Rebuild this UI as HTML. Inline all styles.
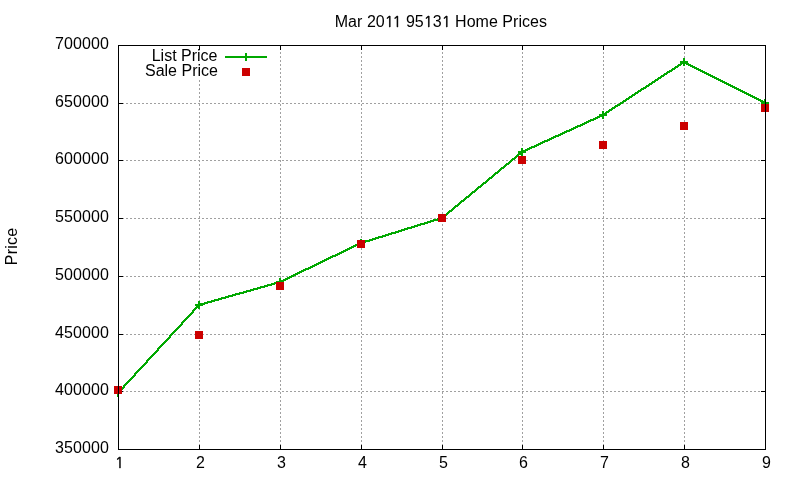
<!DOCTYPE html>
<html><head><meta charset="utf-8"><title>Mar 2011 95131 Home Prices</title>
<style>html,body{margin:0;padding:0;background:#fff;width:800px;height:480px;overflow:hidden}svg{display:block}</style>
</head><body>
<svg width="800" height="480" viewBox="0 0 800 480">
<rect width="800" height="480" fill="#fff"/>
<g shape-rendering="crispEdges">
<path fill="#a0a0a0" d="M280 45h1v1h-1zM361 45h1v1h-1zM442 45h1v1h-1zM522 45h1v1h-1zM603 45h1v1h-1zM684 45h1v1h-1zM280 48h1v2h-1zM361 48h1v2h-1zM442 48h1v2h-1zM522 48h1v2h-1zM603 48h1v2h-1zM684 48h1v2h-1zM280 52h1v2h-1zM361 52h1v2h-1zM442 52h1v2h-1zM522 52h1v2h-1zM603 52h1v2h-1zM684 52h1v2h-1zM280 56h1v2h-1zM361 56h1v2h-1zM442 56h1v2h-1zM522 56h1v2h-1zM603 56h1v2h-1zM684 56h1v2h-1zM280 60h1v2h-1zM361 60h1v2h-1zM442 60h1v2h-1zM522 60h1v2h-1zM603 60h1v2h-1zM684 60h1v2h-1zM280 64h1v2h-1zM361 64h1v2h-1zM442 64h1v2h-1zM522 64h1v2h-1zM603 64h1v2h-1zM684 64h1v2h-1zM280 68h1v2h-1zM361 68h1v2h-1zM442 68h1v2h-1zM522 68h1v2h-1zM603 68h1v2h-1zM684 68h1v2h-1zM280 72h1v2h-1zM361 72h1v2h-1zM442 72h1v2h-1zM522 72h1v2h-1zM603 72h1v2h-1zM684 72h1v2h-1zM280 76h1v2h-1zM361 76h1v2h-1zM442 76h1v2h-1zM522 76h1v2h-1zM603 76h1v2h-1zM684 76h1v2h-1zM199 80h1v2h-1zM280 80h1v2h-1zM361 80h1v2h-1zM442 80h1v2h-1zM522 80h1v2h-1zM603 80h1v2h-1zM684 80h1v2h-1zM199 84h1v2h-1zM280 84h1v2h-1zM361 84h1v2h-1zM442 84h1v2h-1zM522 84h1v2h-1zM603 84h1v2h-1zM684 84h1v2h-1zM199 88h1v2h-1zM280 88h1v2h-1zM361 88h1v2h-1zM442 88h1v2h-1zM522 88h1v2h-1zM603 88h1v2h-1zM684 88h1v2h-1zM199 92h1v2h-1zM280 92h1v2h-1zM361 92h1v2h-1zM442 92h1v2h-1zM522 92h1v2h-1zM603 92h1v2h-1zM684 92h1v2h-1zM199 96h1v2h-1zM280 96h1v2h-1zM361 96h1v2h-1zM442 96h1v2h-1zM522 96h1v2h-1zM603 96h1v2h-1zM684 96h1v2h-1zM199 100h1v2h-1zM280 100h1v2h-1zM361 100h1v2h-1zM442 100h1v2h-1zM522 100h1v2h-1zM603 100h1v2h-1zM684 100h1v2h-1zM199 104h1v2h-1zM280 104h1v2h-1zM361 104h1v2h-1zM442 104h1v2h-1zM522 104h1v2h-1zM603 104h1v2h-1zM684 104h1v2h-1zM199 108h1v2h-1zM280 108h1v2h-1zM361 108h1v2h-1zM442 108h1v2h-1zM522 108h1v2h-1zM603 108h1v2h-1zM684 108h1v2h-1zM199 112h1v2h-1zM280 112h1v2h-1zM361 112h1v2h-1zM442 112h1v2h-1zM522 112h1v2h-1zM603 112h1v2h-1zM684 112h1v2h-1zM199 116h1v2h-1zM280 116h1v2h-1zM361 116h1v2h-1zM442 116h1v2h-1zM522 116h1v2h-1zM603 116h1v2h-1zM684 116h1v2h-1zM199 120h1v2h-1zM280 120h1v2h-1zM361 120h1v2h-1zM442 120h1v2h-1zM522 120h1v2h-1zM603 120h1v2h-1zM684 120h1v2h-1zM199 124h1v2h-1zM280 124h1v2h-1zM361 124h1v2h-1zM442 124h1v2h-1zM522 124h1v2h-1zM603 124h1v2h-1zM684 124h1v2h-1zM199 128h1v2h-1zM280 128h1v2h-1zM361 128h1v2h-1zM442 128h1v2h-1zM522 128h1v2h-1zM603 128h1v2h-1zM684 128h1v2h-1zM199 132h1v2h-1zM280 132h1v2h-1zM361 132h1v2h-1zM442 132h1v2h-1zM522 132h1v2h-1zM603 132h1v2h-1zM684 132h1v2h-1zM199 136h1v2h-1zM280 136h1v2h-1zM361 136h1v2h-1zM442 136h1v2h-1zM522 136h1v2h-1zM603 136h1v2h-1zM684 136h1v2h-1zM199 140h1v2h-1zM280 140h1v2h-1zM361 140h1v2h-1zM442 140h1v2h-1zM522 140h1v2h-1zM603 140h1v2h-1zM684 140h1v2h-1zM199 144h1v2h-1zM280 144h1v2h-1zM361 144h1v2h-1zM442 144h1v2h-1zM522 144h1v2h-1zM603 144h1v2h-1zM684 144h1v2h-1zM199 148h1v2h-1zM280 148h1v2h-1zM361 148h1v2h-1zM442 148h1v2h-1zM522 148h1v2h-1zM603 148h1v2h-1zM684 148h1v2h-1zM199 152h1v2h-1zM280 152h1v2h-1zM361 152h1v2h-1zM442 152h1v2h-1zM522 152h1v2h-1zM603 152h1v2h-1zM684 152h1v2h-1zM118 103h2v1h-2zM122 103h2v1h-2zM126 103h2v1h-2zM130 103h2v1h-2zM134 103h2v1h-2zM138 103h2v1h-2zM142 103h2v1h-2zM146 103h2v1h-2zM150 103h2v1h-2zM154 103h2v1h-2zM158 103h2v1h-2zM162 103h2v1h-2zM166 103h2v1h-2zM170 103h2v1h-2zM174 103h2v1h-2zM178 103h2v1h-2zM182 103h2v1h-2zM186 103h2v1h-2zM190 103h2v1h-2zM194 103h2v1h-2zM198 103h2v1h-2zM202 103h2v1h-2zM206 103h2v1h-2zM210 103h2v1h-2zM214 103h2v1h-2zM218 103h2v1h-2zM222 103h2v1h-2zM226 103h2v1h-2zM230 103h2v1h-2zM234 103h2v1h-2zM238 103h2v1h-2zM242 103h2v1h-2zM246 103h2v1h-2zM250 103h2v1h-2zM254 103h2v1h-2zM258 103h2v1h-2zM262 103h2v1h-2zM266 103h2v1h-2zM270 103h2v1h-2zM274 103h2v1h-2zM282 103h2v1h-2zM286 103h2v1h-2zM290 103h2v1h-2zM294 103h2v1h-2zM298 103h2v1h-2zM302 103h2v1h-2zM306 103h2v1h-2zM310 103h2v1h-2zM314 103h2v1h-2zM318 103h2v1h-2zM322 103h2v1h-2zM326 103h2v1h-2zM330 103h2v1h-2zM334 103h2v1h-2zM338 103h2v1h-2zM342 103h2v1h-2zM346 103h2v1h-2zM350 103h2v1h-2zM354 103h2v1h-2zM358 103h2v1h-2zM366 103h2v1h-2zM370 103h2v1h-2zM374 103h2v1h-2zM378 103h2v1h-2zM382 103h2v1h-2zM386 103h2v1h-2zM390 103h2v1h-2zM394 103h2v1h-2zM398 103h2v1h-2zM402 103h2v1h-2zM406 103h2v1h-2zM410 103h2v1h-2zM414 103h2v1h-2zM418 103h2v1h-2zM422 103h2v1h-2zM426 103h2v1h-2zM430 103h2v1h-2zM434 103h2v1h-2zM438 103h2v1h-2zM442 103h2v1h-2zM446 103h2v1h-2zM450 103h2v1h-2zM454 103h2v1h-2zM458 103h2v1h-2zM462 103h2v1h-2zM466 103h2v1h-2zM470 103h2v1h-2zM474 103h2v1h-2zM478 103h2v1h-2zM482 103h2v1h-2zM486 103h2v1h-2zM490 103h2v1h-2zM494 103h2v1h-2zM498 103h2v1h-2zM502 103h2v1h-2zM506 103h2v1h-2zM510 103h2v1h-2zM514 103h2v1h-2zM518 103h2v1h-2zM522 103h2v1h-2zM526 103h2v1h-2zM530 103h2v1h-2zM534 103h2v1h-2zM538 103h2v1h-2zM542 103h2v1h-2zM546 103h2v1h-2zM550 103h2v1h-2zM554 103h2v1h-2zM558 103h2v1h-2zM562 103h2v1h-2zM566 103h2v1h-2zM570 103h2v1h-2zM574 103h2v1h-2zM578 103h2v1h-2zM582 103h2v1h-2zM586 103h2v1h-2zM590 103h2v1h-2zM594 103h2v1h-2zM598 103h2v1h-2zM602 103h2v1h-2zM606 103h2v1h-2zM610 103h2v1h-2zM614 103h2v1h-2zM618 103h2v1h-2zM622 103h2v1h-2zM626 103h2v1h-2zM630 103h2v1h-2zM634 103h2v1h-2zM638 103h2v1h-2zM642 103h2v1h-2zM646 103h2v1h-2zM650 103h2v1h-2zM654 103h2v1h-2zM658 103h2v1h-2zM662 103h2v1h-2zM666 103h2v1h-2zM670 103h2v1h-2zM674 103h2v1h-2zM678 103h2v1h-2zM686 103h2v1h-2zM690 103h2v1h-2zM694 103h2v1h-2zM698 103h2v1h-2zM702 103h2v1h-2zM706 103h2v1h-2zM710 103h2v1h-2zM714 103h2v1h-2zM718 103h2v1h-2zM722 103h2v1h-2zM726 103h2v1h-2zM730 103h2v1h-2zM734 103h2v1h-2zM738 103h2v1h-2zM742 103h2v1h-2zM746 103h2v1h-2zM750 103h2v1h-2zM754 103h2v1h-2zM758 103h2v1h-2zM762 103h2v1h-2zM199 156h1v2h-1zM280 156h1v2h-1zM361 156h1v2h-1zM442 156h1v2h-1zM522 156h1v2h-1zM603 156h1v2h-1zM684 156h1v2h-1zM199 161h1v1h-1zM280 161h1v1h-1zM361 161h1v1h-1zM442 161h1v1h-1zM522 161h1v1h-1zM603 161h1v1h-1zM684 161h1v1h-1zM199 164h1v2h-1zM280 164h1v2h-1zM361 164h1v2h-1zM442 164h1v2h-1zM522 164h1v2h-1zM603 164h1v2h-1zM684 164h1v2h-1zM199 168h1v2h-1zM280 168h1v2h-1zM361 168h1v2h-1zM442 168h1v2h-1zM522 168h1v2h-1zM603 168h1v2h-1zM684 168h1v2h-1zM199 172h1v2h-1zM280 172h1v2h-1zM361 172h1v2h-1zM442 172h1v2h-1zM522 172h1v2h-1zM603 172h1v2h-1zM684 172h1v2h-1zM199 176h1v2h-1zM280 176h1v2h-1zM361 176h1v2h-1zM442 176h1v2h-1zM522 176h1v2h-1zM603 176h1v2h-1zM684 176h1v2h-1zM199 180h1v2h-1zM280 180h1v2h-1zM361 180h1v2h-1zM442 180h1v2h-1zM522 180h1v2h-1zM603 180h1v2h-1zM684 180h1v2h-1zM199 184h1v2h-1zM280 184h1v2h-1zM361 184h1v2h-1zM442 184h1v2h-1zM522 184h1v2h-1zM603 184h1v2h-1zM684 184h1v2h-1zM199 188h1v2h-1zM280 188h1v2h-1zM361 188h1v2h-1zM442 188h1v2h-1zM522 188h1v2h-1zM603 188h1v2h-1zM684 188h1v2h-1zM199 192h1v2h-1zM280 192h1v2h-1zM361 192h1v2h-1zM442 192h1v2h-1zM522 192h1v2h-1zM603 192h1v2h-1zM684 192h1v2h-1zM199 196h1v2h-1zM280 196h1v2h-1zM361 196h1v2h-1zM442 196h1v2h-1zM522 196h1v2h-1zM603 196h1v2h-1zM684 196h1v2h-1zM199 200h1v2h-1zM280 200h1v2h-1zM361 200h1v2h-1zM442 200h1v2h-1zM522 200h1v2h-1zM603 200h1v2h-1zM684 200h1v2h-1zM199 204h1v2h-1zM280 204h1v2h-1zM361 204h1v2h-1zM442 204h1v2h-1zM522 204h1v2h-1zM603 204h1v2h-1zM684 204h1v2h-1zM199 208h1v2h-1zM280 208h1v2h-1zM361 208h1v2h-1zM442 208h1v2h-1zM522 208h1v2h-1zM603 208h1v2h-1zM684 208h1v2h-1zM199 212h1v2h-1zM280 212h1v2h-1zM361 212h1v2h-1zM442 212h1v2h-1zM522 212h1v2h-1zM603 212h1v2h-1zM684 212h1v2h-1zM118 160h2v1h-2zM122 160h2v1h-2zM126 160h2v1h-2zM130 160h2v1h-2zM134 160h2v1h-2zM138 160h2v1h-2zM142 160h2v1h-2zM146 160h2v1h-2zM150 160h2v1h-2zM154 160h2v1h-2zM158 160h2v1h-2zM162 160h2v1h-2zM166 160h2v1h-2zM170 160h2v1h-2zM174 160h2v1h-2zM178 160h2v1h-2zM182 160h2v1h-2zM186 160h2v1h-2zM190 160h2v1h-2zM194 160h2v1h-2zM198 160h2v1h-2zM202 160h2v1h-2zM206 160h2v1h-2zM210 160h2v1h-2zM214 160h2v1h-2zM218 160h2v1h-2zM222 160h2v1h-2zM226 160h2v1h-2zM230 160h2v1h-2zM234 160h2v1h-2zM238 160h2v1h-2zM242 160h2v1h-2zM246 160h2v1h-2zM250 160h2v1h-2zM254 160h2v1h-2zM258 160h2v1h-2zM262 160h2v1h-2zM266 160h2v1h-2zM270 160h2v1h-2zM274 160h2v1h-2zM278 103h2v1h-2zM282 160h2v1h-2zM286 160h2v1h-2zM290 160h2v1h-2zM294 160h2v1h-2zM298 160h2v1h-2zM302 160h2v1h-2zM306 160h2v1h-2zM310 160h2v1h-2zM314 160h2v1h-2zM318 160h2v1h-2zM322 160h2v1h-2zM326 160h2v1h-2zM330 160h2v1h-2zM334 160h2v1h-2zM338 160h2v1h-2zM342 160h2v1h-2zM346 160h2v1h-2zM350 160h2v1h-2zM354 160h2v1h-2zM358 160h2v1h-2zM362 103h2v1h-2zM366 160h2v1h-2zM370 160h2v1h-2zM374 160h2v1h-2zM378 160h2v1h-2zM382 160h2v1h-2zM386 160h2v1h-2zM390 160h2v1h-2zM394 160h2v1h-2zM398 160h2v1h-2zM402 160h2v1h-2zM406 160h2v1h-2zM410 160h2v1h-2zM414 160h2v1h-2zM418 160h2v1h-2zM422 160h2v1h-2zM426 160h2v1h-2zM430 160h2v1h-2zM434 160h2v1h-2zM438 160h2v1h-2zM442 160h2v1h-2zM446 160h2v1h-2zM450 160h2v1h-2zM454 160h2v1h-2zM458 160h2v1h-2zM462 160h2v1h-2zM466 160h2v1h-2zM470 160h2v1h-2zM474 160h2v1h-2zM478 160h2v1h-2zM482 160h2v1h-2zM486 160h2v1h-2zM490 160h2v1h-2zM494 160h2v1h-2zM498 160h2v1h-2zM502 160h2v1h-2zM506 160h2v1h-2zM510 160h2v1h-2zM514 160h2v1h-2zM518 160h2v1h-2zM522 160h2v1h-2zM526 160h2v1h-2zM530 160h2v1h-2zM534 160h2v1h-2zM538 160h2v1h-2zM542 160h2v1h-2zM546 160h2v1h-2zM550 160h2v1h-2zM554 160h2v1h-2zM558 160h2v1h-2zM562 160h2v1h-2zM566 160h2v1h-2zM570 160h2v1h-2zM574 160h2v1h-2zM578 160h2v1h-2zM582 160h2v1h-2zM586 160h2v1h-2zM590 160h2v1h-2zM594 160h2v1h-2zM598 160h2v1h-2zM602 160h2v1h-2zM606 160h2v1h-2zM610 160h2v1h-2zM614 160h2v1h-2zM618 160h2v1h-2zM622 160h2v1h-2zM626 160h2v1h-2zM630 160h2v1h-2zM634 160h2v1h-2zM638 160h2v1h-2zM642 160h2v1h-2zM646 160h2v1h-2zM650 160h2v1h-2zM654 160h2v1h-2zM658 160h2v1h-2zM662 160h2v1h-2zM666 160h2v1h-2zM670 160h2v1h-2zM674 160h2v1h-2zM678 160h2v1h-2zM682 103h2v1h-2zM686 160h2v1h-2zM690 160h2v1h-2zM694 160h2v1h-2zM698 160h2v1h-2zM702 160h2v1h-2zM706 160h2v1h-2zM710 160h2v1h-2zM714 160h2v1h-2zM718 160h2v1h-2zM722 160h2v1h-2zM726 160h2v1h-2zM730 160h2v1h-2zM734 160h2v1h-2zM738 160h2v1h-2zM742 160h2v1h-2zM746 160h2v1h-2zM750 160h2v1h-2zM754 160h2v1h-2zM758 160h2v1h-2zM762 160h2v1h-2zM199 216h1v2h-1zM280 216h1v2h-1zM361 216h1v2h-1zM442 216h1v2h-1zM522 216h1v2h-1zM603 216h1v2h-1zM684 216h1v2h-1zM199 220h1v2h-1zM280 220h1v2h-1zM361 220h1v2h-1zM442 220h1v2h-1zM522 220h1v2h-1zM603 220h1v2h-1zM684 220h1v2h-1zM199 224h1v2h-1zM280 224h1v2h-1zM361 224h1v2h-1zM442 224h1v2h-1zM522 224h1v2h-1zM603 224h1v2h-1zM684 224h1v2h-1zM199 228h1v2h-1zM280 228h1v2h-1zM361 228h1v2h-1zM442 228h1v2h-1zM522 228h1v2h-1zM603 228h1v2h-1zM684 228h1v2h-1zM199 232h1v2h-1zM280 232h1v2h-1zM361 232h1v2h-1zM442 232h1v2h-1zM522 232h1v2h-1zM603 232h1v2h-1zM684 232h1v2h-1zM199 236h1v2h-1zM280 236h1v2h-1zM361 236h1v2h-1zM442 236h1v2h-1zM522 236h1v2h-1zM603 236h1v2h-1zM684 236h1v2h-1zM199 240h1v2h-1zM280 240h1v2h-1zM361 240h1v2h-1zM442 240h1v2h-1zM522 240h1v2h-1zM603 240h1v2h-1zM684 240h1v2h-1zM199 244h1v2h-1zM280 244h1v2h-1zM361 244h1v2h-1zM442 244h1v2h-1zM522 244h1v2h-1zM603 244h1v2h-1zM684 244h1v2h-1zM199 248h1v2h-1zM280 248h1v2h-1zM361 248h1v2h-1zM442 248h1v2h-1zM522 248h1v2h-1zM603 248h1v2h-1zM684 248h1v2h-1zM199 252h1v2h-1zM280 252h1v2h-1zM361 252h1v2h-1zM442 252h1v2h-1zM522 252h1v2h-1zM603 252h1v2h-1zM684 252h1v2h-1zM199 256h1v2h-1zM280 256h1v2h-1zM361 256h1v2h-1zM442 256h1v2h-1zM522 256h1v2h-1zM603 256h1v2h-1zM684 256h1v2h-1zM199 260h1v2h-1zM280 260h1v2h-1zM361 260h1v2h-1zM442 260h1v2h-1zM522 260h1v2h-1zM603 260h1v2h-1zM684 260h1v2h-1zM199 264h1v2h-1zM280 264h1v2h-1zM361 264h1v2h-1zM442 264h1v2h-1zM522 264h1v2h-1zM603 264h1v2h-1zM684 264h1v2h-1zM199 268h1v2h-1zM280 268h1v2h-1zM361 268h1v2h-1zM442 268h1v2h-1zM522 268h1v2h-1zM603 268h1v2h-1zM684 268h1v2h-1zM118 218h2v1h-2zM122 218h2v1h-2zM126 218h2v1h-2zM130 218h2v1h-2zM134 218h2v1h-2zM138 218h2v1h-2zM142 218h2v1h-2zM146 218h2v1h-2zM150 218h2v1h-2zM154 218h2v1h-2zM158 218h2v1h-2zM162 218h2v1h-2zM166 218h2v1h-2zM170 218h2v1h-2zM174 218h2v1h-2zM178 218h2v1h-2zM182 218h2v1h-2zM186 218h2v1h-2zM190 218h2v1h-2zM194 218h2v1h-2zM198 218h2v1h-2zM202 218h2v1h-2zM206 218h2v1h-2zM210 218h2v1h-2zM214 218h2v1h-2zM218 218h2v1h-2zM222 218h2v1h-2zM226 218h2v1h-2zM230 218h2v1h-2zM234 218h2v1h-2zM238 218h2v1h-2zM242 218h2v1h-2zM246 218h2v1h-2zM250 218h2v1h-2zM254 218h2v1h-2zM258 218h2v1h-2zM262 218h2v1h-2zM266 218h2v1h-2zM270 218h2v1h-2zM274 218h2v1h-2zM278 160h3v1h-3zM282 218h2v1h-2zM286 218h2v1h-2zM290 218h2v1h-2zM294 218h2v1h-2zM298 218h2v1h-2zM302 218h2v1h-2zM306 218h2v1h-2zM310 218h2v1h-2zM314 218h2v1h-2zM318 218h2v1h-2zM322 218h2v1h-2zM326 218h2v1h-2zM330 218h2v1h-2zM334 218h2v1h-2zM338 218h2v1h-2zM342 218h2v1h-2zM346 218h2v1h-2zM350 218h2v1h-2zM354 218h2v1h-2zM358 218h2v1h-2zM361 160h3v1h-3zM366 218h2v1h-2zM370 218h2v1h-2zM374 218h2v1h-2zM378 218h2v1h-2zM382 218h2v1h-2zM386 218h2v1h-2zM390 218h2v1h-2zM394 218h2v1h-2zM398 218h2v1h-2zM402 218h2v1h-2zM406 218h2v1h-2zM410 218h2v1h-2zM414 218h2v1h-2zM418 218h2v1h-2zM422 218h2v1h-2zM426 218h2v1h-2zM430 218h2v1h-2zM434 218h2v1h-2zM438 218h2v1h-2zM442 218h2v1h-2zM446 218h2v1h-2zM450 218h2v1h-2zM454 218h2v1h-2zM458 218h2v1h-2zM462 218h2v1h-2zM466 218h2v1h-2zM470 218h2v1h-2zM474 218h2v1h-2zM478 218h2v1h-2zM482 218h2v1h-2zM486 218h2v1h-2zM490 218h2v1h-2zM494 218h2v1h-2zM498 218h2v1h-2zM502 218h2v1h-2zM506 218h2v1h-2zM510 218h2v1h-2zM514 218h2v1h-2zM518 218h2v1h-2zM522 218h2v1h-2zM526 218h2v1h-2zM530 218h2v1h-2zM534 218h2v1h-2zM538 218h2v1h-2zM542 218h2v1h-2zM546 218h2v1h-2zM550 218h2v1h-2zM554 218h2v1h-2zM558 218h2v1h-2zM562 218h2v1h-2zM566 218h2v1h-2zM570 218h2v1h-2zM574 218h2v1h-2zM578 218h2v1h-2zM582 218h2v1h-2zM586 218h2v1h-2zM590 218h2v1h-2zM594 218h2v1h-2zM598 218h2v1h-2zM602 218h2v1h-2zM606 218h2v1h-2zM610 218h2v1h-2zM614 218h2v1h-2zM618 218h2v1h-2zM622 218h2v1h-2zM626 218h2v1h-2zM630 218h2v1h-2zM634 218h2v1h-2zM638 218h2v1h-2zM642 218h2v1h-2zM646 218h2v1h-2zM650 218h2v1h-2zM654 218h2v1h-2zM658 218h2v1h-2zM662 218h2v1h-2zM666 218h2v1h-2zM670 218h2v1h-2zM674 218h2v1h-2zM678 218h2v1h-2zM682 160h3v1h-3zM686 218h2v1h-2zM690 218h2v1h-2zM694 218h2v1h-2zM698 218h2v1h-2zM702 218h2v1h-2zM706 218h2v1h-2zM710 218h2v1h-2zM714 218h2v1h-2zM718 218h2v1h-2zM722 218h2v1h-2zM726 218h2v1h-2zM730 218h2v1h-2zM734 218h2v1h-2zM738 218h2v1h-2zM742 218h2v1h-2zM746 218h2v1h-2zM750 218h2v1h-2zM754 218h2v1h-2zM758 218h2v1h-2zM762 218h2v1h-2zM199 272h1v2h-1zM280 272h1v2h-1zM361 272h1v2h-1zM442 272h1v2h-1zM522 272h1v2h-1zM603 272h1v2h-1zM684 272h1v2h-1zM199 277h1v1h-1zM280 277h1v1h-1zM361 277h1v1h-1zM442 277h1v1h-1zM522 277h1v1h-1zM603 277h1v1h-1zM684 277h1v1h-1zM199 280h1v2h-1zM280 280h1v2h-1zM361 280h1v2h-1zM442 280h1v2h-1zM522 280h1v2h-1zM603 280h1v2h-1zM684 280h1v2h-1zM199 284h1v2h-1zM280 284h1v2h-1zM361 284h1v2h-1zM442 284h1v2h-1zM522 284h1v2h-1zM603 284h1v2h-1zM684 284h1v2h-1zM199 288h1v2h-1zM280 288h1v2h-1zM361 288h1v2h-1zM442 288h1v2h-1zM522 288h1v2h-1zM603 288h1v2h-1zM684 288h1v2h-1zM199 292h1v2h-1zM280 292h1v2h-1zM361 292h1v2h-1zM442 292h1v2h-1zM522 292h1v2h-1zM603 292h1v2h-1zM684 292h1v2h-1zM199 296h1v2h-1zM280 296h1v2h-1zM361 296h1v2h-1zM442 296h1v2h-1zM522 296h1v2h-1zM603 296h1v2h-1zM684 296h1v2h-1zM199 300h1v2h-1zM280 300h1v2h-1zM361 300h1v2h-1zM442 300h1v2h-1zM522 300h1v2h-1zM603 300h1v2h-1zM684 300h1v2h-1zM199 304h1v2h-1zM280 304h1v2h-1zM361 304h1v2h-1zM442 304h1v2h-1zM522 304h1v2h-1zM603 304h1v2h-1zM684 304h1v2h-1zM199 308h1v2h-1zM280 308h1v2h-1zM361 308h1v2h-1zM442 308h1v2h-1zM522 308h1v2h-1zM603 308h1v2h-1zM684 308h1v2h-1zM199 312h1v2h-1zM280 312h1v2h-1zM361 312h1v2h-1zM442 312h1v2h-1zM522 312h1v2h-1zM603 312h1v2h-1zM684 312h1v2h-1zM199 316h1v2h-1zM280 316h1v2h-1zM361 316h1v2h-1zM442 316h1v2h-1zM522 316h1v2h-1zM603 316h1v2h-1zM684 316h1v2h-1zM199 320h1v2h-1zM280 320h1v2h-1zM361 320h1v2h-1zM442 320h1v2h-1zM522 320h1v2h-1zM603 320h1v2h-1zM684 320h1v2h-1zM199 324h1v2h-1zM280 324h1v2h-1zM361 324h1v2h-1zM442 324h1v2h-1zM522 324h1v2h-1zM603 324h1v2h-1zM684 324h1v2h-1zM199 328h1v2h-1zM280 328h1v2h-1zM361 328h1v2h-1zM442 328h1v2h-1zM522 328h1v2h-1zM603 328h1v2h-1zM684 328h1v2h-1zM118 276h2v1h-2zM122 276h2v1h-2zM126 276h2v1h-2zM130 276h2v1h-2zM134 276h2v1h-2zM138 276h2v1h-2zM142 276h2v1h-2zM146 276h2v1h-2zM150 276h2v1h-2zM154 276h2v1h-2zM158 276h2v1h-2zM162 276h2v1h-2zM166 276h2v1h-2zM170 276h2v1h-2zM174 276h2v1h-2zM178 276h2v1h-2zM182 276h2v1h-2zM186 276h2v1h-2zM190 276h2v1h-2zM194 276h2v1h-2zM198 276h2v1h-2zM202 276h2v1h-2zM206 276h2v1h-2zM210 276h2v1h-2zM214 276h2v1h-2zM218 276h2v1h-2zM222 276h2v1h-2zM226 276h2v1h-2zM230 276h2v1h-2zM234 276h2v1h-2zM238 276h2v1h-2zM242 276h2v1h-2zM246 276h2v1h-2zM250 276h2v1h-2zM254 276h2v1h-2zM258 276h2v1h-2zM262 276h2v1h-2zM266 276h2v1h-2zM270 276h2v1h-2zM274 276h2v1h-2zM278 218h2v1h-2zM282 276h2v1h-2zM286 276h2v1h-2zM290 276h2v1h-2zM294 276h2v1h-2zM298 276h2v1h-2zM302 276h2v1h-2zM306 276h2v1h-2zM310 276h2v1h-2zM314 276h2v1h-2zM318 276h2v1h-2zM322 276h2v1h-2zM326 276h2v1h-2zM330 276h2v1h-2zM334 276h2v1h-2zM338 276h2v1h-2zM342 276h2v1h-2zM346 276h2v1h-2zM350 276h2v1h-2zM354 276h2v1h-2zM358 276h2v1h-2zM362 218h2v1h-2zM366 276h2v1h-2zM370 276h2v1h-2zM374 276h2v1h-2zM378 276h2v1h-2zM382 276h2v1h-2zM386 276h2v1h-2zM390 276h2v1h-2zM394 276h2v1h-2zM398 276h2v1h-2zM402 276h2v1h-2zM406 276h2v1h-2zM410 276h2v1h-2zM414 276h2v1h-2zM418 276h2v1h-2zM422 276h2v1h-2zM426 276h2v1h-2zM430 276h2v1h-2zM434 276h2v1h-2zM438 276h2v1h-2zM442 276h2v1h-2zM446 276h2v1h-2zM450 276h2v1h-2zM454 276h2v1h-2zM458 276h2v1h-2zM462 276h2v1h-2zM466 276h2v1h-2zM470 276h2v1h-2zM474 276h2v1h-2zM478 276h2v1h-2zM482 276h2v1h-2zM486 276h2v1h-2zM490 276h2v1h-2zM494 276h2v1h-2zM498 276h2v1h-2zM502 276h2v1h-2zM506 276h2v1h-2zM510 276h2v1h-2zM514 276h2v1h-2zM518 276h2v1h-2zM522 276h2v1h-2zM526 276h2v1h-2zM530 276h2v1h-2zM534 276h2v1h-2zM538 276h2v1h-2zM542 276h2v1h-2zM546 276h2v1h-2zM550 276h2v1h-2zM554 276h2v1h-2zM558 276h2v1h-2zM562 276h2v1h-2zM566 276h2v1h-2zM570 276h2v1h-2zM574 276h2v1h-2zM578 276h2v1h-2zM582 276h2v1h-2zM586 276h2v1h-2zM590 276h2v1h-2zM594 276h2v1h-2zM598 276h2v1h-2zM602 276h2v1h-2zM606 276h2v1h-2zM610 276h2v1h-2zM614 276h2v1h-2zM618 276h2v1h-2zM622 276h2v1h-2zM626 276h2v1h-2zM630 276h2v1h-2zM634 276h2v1h-2zM638 276h2v1h-2zM642 276h2v1h-2zM646 276h2v1h-2zM650 276h2v1h-2zM654 276h2v1h-2zM658 276h2v1h-2zM662 276h2v1h-2zM666 276h2v1h-2zM670 276h2v1h-2zM674 276h2v1h-2zM678 276h2v1h-2zM682 218h2v1h-2zM686 276h2v1h-2zM690 276h2v1h-2zM694 276h2v1h-2zM698 276h2v1h-2zM702 276h2v1h-2zM706 276h2v1h-2zM710 276h2v1h-2zM714 276h2v1h-2zM718 276h2v1h-2zM722 276h2v1h-2zM726 276h2v1h-2zM730 276h2v1h-2zM734 276h2v1h-2zM738 276h2v1h-2zM742 276h2v1h-2zM746 276h2v1h-2zM750 276h2v1h-2zM754 276h2v1h-2zM758 276h2v1h-2zM762 276h2v1h-2zM199 332h1v2h-1zM280 332h1v2h-1zM361 332h1v2h-1zM442 332h1v2h-1zM522 332h1v2h-1zM603 332h1v2h-1zM684 332h1v2h-1zM199 336h1v2h-1zM280 336h1v2h-1zM361 336h1v2h-1zM442 336h1v2h-1zM522 336h1v2h-1zM603 336h1v2h-1zM684 336h1v2h-1zM199 340h1v2h-1zM280 340h1v2h-1zM361 340h1v2h-1zM442 340h1v2h-1zM522 340h1v2h-1zM603 340h1v2h-1zM684 340h1v2h-1zM199 344h1v2h-1zM280 344h1v2h-1zM361 344h1v2h-1zM442 344h1v2h-1zM522 344h1v2h-1zM603 344h1v2h-1zM684 344h1v2h-1zM199 348h1v2h-1zM280 348h1v2h-1zM361 348h1v2h-1zM442 348h1v2h-1zM522 348h1v2h-1zM603 348h1v2h-1zM684 348h1v2h-1zM199 352h1v2h-1zM280 352h1v2h-1zM361 352h1v2h-1zM442 352h1v2h-1zM522 352h1v2h-1zM603 352h1v2h-1zM684 352h1v2h-1zM199 356h1v2h-1zM280 356h1v2h-1zM361 356h1v2h-1zM442 356h1v2h-1zM522 356h1v2h-1zM603 356h1v2h-1zM684 356h1v2h-1zM199 360h1v2h-1zM280 360h1v2h-1zM361 360h1v2h-1zM442 360h1v2h-1zM522 360h1v2h-1zM603 360h1v2h-1zM684 360h1v2h-1zM199 364h1v2h-1zM280 364h1v2h-1zM361 364h1v2h-1zM442 364h1v2h-1zM522 364h1v2h-1zM603 364h1v2h-1zM684 364h1v2h-1zM199 368h1v2h-1zM280 368h1v2h-1zM361 368h1v2h-1zM442 368h1v2h-1zM522 368h1v2h-1zM603 368h1v2h-1zM684 368h1v2h-1zM199 372h1v2h-1zM280 372h1v2h-1zM361 372h1v2h-1zM442 372h1v2h-1zM522 372h1v2h-1zM603 372h1v2h-1zM684 372h1v2h-1zM199 376h1v2h-1zM280 376h1v2h-1zM361 376h1v2h-1zM442 376h1v2h-1zM522 376h1v2h-1zM603 376h1v2h-1zM684 376h1v2h-1zM199 380h1v2h-1zM280 380h1v2h-1zM361 380h1v2h-1zM442 380h1v2h-1zM522 380h1v2h-1zM603 380h1v2h-1zM684 380h1v2h-1zM199 384h1v2h-1zM280 384h1v2h-1zM361 384h1v2h-1zM442 384h1v2h-1zM522 384h1v2h-1zM603 384h1v2h-1zM684 384h1v2h-1zM118 334h2v1h-2zM122 334h2v1h-2zM126 334h2v1h-2zM130 334h2v1h-2zM134 334h2v1h-2zM138 334h2v1h-2zM142 334h2v1h-2zM146 334h2v1h-2zM150 334h2v1h-2zM154 334h2v1h-2zM158 334h2v1h-2zM162 334h2v1h-2zM166 334h2v1h-2zM170 334h2v1h-2zM174 334h2v1h-2zM178 334h2v1h-2zM182 334h2v1h-2zM186 334h2v1h-2zM190 334h2v1h-2zM194 334h2v1h-2zM198 334h2v1h-2zM202 334h2v1h-2zM206 334h2v1h-2zM210 334h2v1h-2zM214 334h2v1h-2zM218 334h2v1h-2zM222 334h2v1h-2zM226 334h2v1h-2zM230 334h2v1h-2zM234 334h2v1h-2zM238 334h2v1h-2zM242 334h2v1h-2zM246 334h2v1h-2zM250 334h2v1h-2zM254 334h2v1h-2zM258 334h2v1h-2zM262 334h2v1h-2zM266 334h2v1h-2zM270 334h2v1h-2zM274 334h2v1h-2zM278 334h2v1h-2zM282 334h2v1h-2zM286 334h2v1h-2zM290 334h2v1h-2zM294 334h2v1h-2zM298 334h2v1h-2zM302 334h2v1h-2zM306 334h2v1h-2zM310 334h2v1h-2zM314 334h2v1h-2zM318 334h2v1h-2zM322 334h2v1h-2zM326 334h2v1h-2zM330 334h2v1h-2zM334 334h2v1h-2zM338 334h2v1h-2zM342 334h2v1h-2zM346 334h2v1h-2zM350 334h2v1h-2zM354 334h2v1h-2zM358 334h2v1h-2zM362 334h2v1h-2zM366 334h2v1h-2zM370 334h2v1h-2zM374 334h2v1h-2zM378 334h2v1h-2zM382 334h2v1h-2zM386 334h2v1h-2zM390 334h2v1h-2zM394 334h2v1h-2zM398 334h2v1h-2zM402 334h2v1h-2zM406 334h2v1h-2zM410 334h2v1h-2zM414 334h2v1h-2zM418 334h2v1h-2zM422 334h2v1h-2zM426 334h2v1h-2zM430 334h2v1h-2zM434 334h2v1h-2zM438 334h2v1h-2zM442 334h2v1h-2zM446 334h2v1h-2zM450 334h2v1h-2zM454 334h2v1h-2zM458 334h2v1h-2zM462 334h2v1h-2zM466 334h2v1h-2zM470 334h2v1h-2zM474 334h2v1h-2zM478 334h2v1h-2zM482 334h2v1h-2zM486 334h2v1h-2zM490 334h2v1h-2zM494 334h2v1h-2zM498 334h2v1h-2zM502 334h2v1h-2zM506 334h2v1h-2zM510 334h2v1h-2zM514 334h2v1h-2zM518 334h2v1h-2zM522 334h2v1h-2zM526 334h2v1h-2zM530 334h2v1h-2zM534 334h2v1h-2zM538 334h2v1h-2zM542 334h2v1h-2zM546 334h2v1h-2zM550 334h2v1h-2zM554 334h2v1h-2zM558 334h2v1h-2zM562 334h2v1h-2zM566 334h2v1h-2zM570 334h2v1h-2zM574 334h2v1h-2zM578 334h2v1h-2zM582 334h2v1h-2zM586 334h2v1h-2zM590 334h2v1h-2zM594 334h2v1h-2zM598 334h2v1h-2zM602 334h2v1h-2zM606 334h2v1h-2zM610 334h2v1h-2zM614 334h2v1h-2zM618 334h2v1h-2zM622 334h2v1h-2zM626 334h2v1h-2zM630 334h2v1h-2zM634 334h2v1h-2zM638 334h2v1h-2zM642 334h2v1h-2zM646 334h2v1h-2zM650 334h2v1h-2zM654 334h2v1h-2zM658 334h2v1h-2zM662 334h2v1h-2zM666 334h2v1h-2zM670 334h2v1h-2zM674 334h2v1h-2zM678 334h2v1h-2zM682 334h2v1h-2zM686 334h2v1h-2zM690 334h2v1h-2zM694 334h2v1h-2zM698 334h2v1h-2zM702 334h2v1h-2zM706 334h2v1h-2zM710 334h2v1h-2zM714 334h2v1h-2zM718 334h2v1h-2zM722 334h2v1h-2zM726 334h2v1h-2zM730 334h2v1h-2zM734 334h2v1h-2zM738 334h2v1h-2zM742 334h2v1h-2zM746 334h2v1h-2zM750 334h2v1h-2zM754 334h2v1h-2zM758 334h2v1h-2zM762 334h2v1h-2zM199 388h1v2h-1zM280 388h1v2h-1zM361 388h1v2h-1zM442 388h1v2h-1zM522 388h1v2h-1zM603 388h1v2h-1zM684 388h1v2h-1zM199 392h1v2h-1zM280 392h1v2h-1zM361 392h1v2h-1zM442 392h1v2h-1zM522 392h1v2h-1zM603 392h1v2h-1zM684 392h1v2h-1zM199 396h1v2h-1zM280 396h1v2h-1zM361 396h1v2h-1zM442 396h1v2h-1zM522 396h1v2h-1zM603 396h1v2h-1zM684 396h1v2h-1zM199 400h1v2h-1zM280 400h1v2h-1zM361 400h1v2h-1zM442 400h1v2h-1zM522 400h1v2h-1zM603 400h1v2h-1zM684 400h1v2h-1zM199 404h1v2h-1zM280 404h1v2h-1zM361 404h1v2h-1zM442 404h1v2h-1zM522 404h1v2h-1zM603 404h1v2h-1zM684 404h1v2h-1zM199 408h1v2h-1zM280 408h1v2h-1zM361 408h1v2h-1zM442 408h1v2h-1zM522 408h1v2h-1zM603 408h1v2h-1zM684 408h1v2h-1zM199 412h1v2h-1zM280 412h1v2h-1zM361 412h1v2h-1zM442 412h1v2h-1zM522 412h1v2h-1zM603 412h1v2h-1zM684 412h1v2h-1zM199 416h1v2h-1zM280 416h1v2h-1zM361 416h1v2h-1zM442 416h1v2h-1zM522 416h1v2h-1zM603 416h1v2h-1zM684 416h1v2h-1zM199 420h1v2h-1zM280 420h1v2h-1zM361 420h1v2h-1zM442 420h1v2h-1zM522 420h1v2h-1zM603 420h1v2h-1zM684 420h1v2h-1zM199 424h1v2h-1zM280 424h1v2h-1zM361 424h1v2h-1zM442 424h1v2h-1zM522 424h1v2h-1zM603 424h1v2h-1zM684 424h1v2h-1zM199 428h1v2h-1zM280 428h1v2h-1zM361 428h1v2h-1zM442 428h1v2h-1zM522 428h1v2h-1zM603 428h1v2h-1zM684 428h1v2h-1zM199 432h1v2h-1zM280 432h1v2h-1zM361 432h1v2h-1zM442 432h1v2h-1zM522 432h1v2h-1zM603 432h1v2h-1zM684 432h1v2h-1zM199 436h1v2h-1zM280 436h1v2h-1zM361 436h1v2h-1zM442 436h1v2h-1zM522 436h1v2h-1zM603 436h1v2h-1zM684 436h1v2h-1zM199 440h1v2h-1zM280 440h1v2h-1zM361 440h1v2h-1zM442 440h1v2h-1zM522 440h1v2h-1zM603 440h1v2h-1zM684 440h1v2h-1zM199 444h1v2h-1zM280 444h1v2h-1zM361 444h1v2h-1zM442 444h1v2h-1zM522 444h1v2h-1zM603 444h1v2h-1zM684 444h1v2h-1zM280 448h1v2h-1zM361 448h1v2h-1zM442 448h1v2h-1zM522 448h1v2h-1zM603 448h1v2h-1zM684 448h1v2h-1zM199 448h1v2h-1zM118 391h2v1h-2zM122 391h2v1h-2zM126 391h2v1h-2zM130 391h2v1h-2zM134 391h2v1h-2zM138 391h2v1h-2zM142 391h2v1h-2zM146 391h2v1h-2zM150 391h2v1h-2zM154 391h2v1h-2zM158 391h2v1h-2zM162 391h2v1h-2zM166 391h2v1h-2zM170 391h2v1h-2zM174 391h2v1h-2zM178 391h2v1h-2zM182 391h2v1h-2zM186 391h2v1h-2zM190 391h2v1h-2zM194 391h2v1h-2zM198 391h2v1h-2zM202 391h2v1h-2zM206 391h2v1h-2zM210 391h2v1h-2zM214 391h2v1h-2zM218 391h2v1h-2zM222 391h2v1h-2zM226 391h2v1h-2zM230 391h2v1h-2zM234 391h2v1h-2zM238 391h2v1h-2zM242 391h2v1h-2zM246 391h2v1h-2zM250 391h2v1h-2zM254 391h2v1h-2zM258 391h2v1h-2zM262 391h2v1h-2zM266 391h2v1h-2zM270 391h2v1h-2zM274 391h2v1h-2zM278 391h2v1h-2zM282 391h2v1h-2zM286 391h2v1h-2zM290 391h2v1h-2zM294 391h2v1h-2zM298 391h2v1h-2zM302 391h2v1h-2zM306 391h2v1h-2zM310 391h2v1h-2zM314 391h2v1h-2zM318 391h2v1h-2zM322 391h2v1h-2zM326 391h2v1h-2zM330 391h2v1h-2zM334 391h2v1h-2zM338 391h2v1h-2zM342 391h2v1h-2zM346 391h2v1h-2zM350 391h2v1h-2zM354 391h2v1h-2zM358 391h2v1h-2zM362 391h2v1h-2zM366 391h2v1h-2zM370 391h2v1h-2zM374 391h2v1h-2zM378 391h2v1h-2zM382 391h2v1h-2zM386 391h2v1h-2zM390 391h2v1h-2zM394 391h2v1h-2zM398 391h2v1h-2zM402 391h2v1h-2zM406 391h2v1h-2zM410 391h2v1h-2zM414 391h2v1h-2zM418 391h2v1h-2zM422 391h2v1h-2zM426 391h2v1h-2zM430 391h2v1h-2zM434 391h2v1h-2zM438 391h2v1h-2zM442 391h2v1h-2zM446 391h2v1h-2zM450 391h2v1h-2zM454 391h2v1h-2zM458 391h2v1h-2zM462 391h2v1h-2zM466 391h2v1h-2zM470 391h2v1h-2zM474 391h2v1h-2zM478 391h2v1h-2zM482 391h2v1h-2zM486 391h2v1h-2zM490 391h2v1h-2zM494 391h2v1h-2zM498 391h2v1h-2zM502 391h2v1h-2zM506 391h2v1h-2zM510 391h2v1h-2zM514 391h2v1h-2zM518 391h2v1h-2zM522 391h2v1h-2zM526 391h2v1h-2zM530 391h2v1h-2zM534 391h2v1h-2zM538 391h2v1h-2zM542 391h2v1h-2zM546 391h2v1h-2zM550 391h2v1h-2zM554 391h2v1h-2zM558 391h2v1h-2zM562 391h2v1h-2zM566 391h2v1h-2zM570 391h2v1h-2zM574 391h2v1h-2zM578 391h2v1h-2zM582 391h2v1h-2zM586 391h2v1h-2zM590 391h2v1h-2zM594 391h2v1h-2zM598 391h2v1h-2zM602 391h2v1h-2zM606 391h2v1h-2zM610 391h2v1h-2zM614 391h2v1h-2zM618 391h2v1h-2zM622 391h2v1h-2zM626 391h2v1h-2zM630 391h2v1h-2zM634 391h2v1h-2zM638 391h2v1h-2zM642 391h2v1h-2zM646 391h2v1h-2zM650 391h2v1h-2zM654 391h2v1h-2zM658 391h2v1h-2zM662 391h2v1h-2zM666 391h2v1h-2zM670 391h2v1h-2zM674 391h2v1h-2zM678 391h2v1h-2zM682 391h2v1h-2zM686 391h2v1h-2zM690 391h2v1h-2zM694 391h2v1h-2zM698 391h2v1h-2zM702 391h2v1h-2zM706 391h2v1h-2zM710 391h2v1h-2zM714 391h2v1h-2zM718 391h2v1h-2zM722 391h2v1h-2zM726 391h2v1h-2zM730 391h2v1h-2zM734 391h2v1h-2zM738 391h2v1h-2zM742 391h2v1h-2zM746 391h2v1h-2zM750 391h2v1h-2zM754 391h2v1h-2zM758 391h2v1h-2zM762 391h2v1h-2zM278 276h3v1h-3zM361 276h3v1h-3zM682 276h3v1h-3z"/>
<path fill="#000" d="M118 45h5v1h-5zM761 45h5v1h-5zM118 103h5v1h-5zM761 103h5v1h-5zM118 160h5v1h-5zM761 160h5v1h-5zM118 218h5v1h-5zM761 218h5v1h-5zM118 276h5v1h-5zM761 276h5v1h-5zM118 334h5v1h-5zM761 334h5v1h-5zM118 46h1v4h-1zM199 45h1v5h-1zM280 45h1v5h-1zM361 45h1v5h-1zM442 45h1v5h-1zM522 45h1v5h-1zM603 45h1v5h-1zM684 45h1v5h-1zM765 46h1v4h-1zM118 391h5v1h-5zM761 391h5v1h-5zM118 449h5v1h-5zM199 445h1v5h-1zM280 445h1v5h-1zM361 445h1v5h-1zM442 445h1v5h-1zM522 445h1v5h-1zM603 445h1v5h-1zM684 445h1v5h-1zM761 449h5v1h-5zM118 445h1v4h-1zM765 445h1v4h-1z"/>
<path fill="#00a800" d="M245 53h2v3h-2zM683 58h2v3h-2zM764 99h2v2h-2zM602 111h2v2h-2zM521 148h2v2h-2zM441 214h2v1h-2zM360 239h2v2h-2zM279 278h2v2h-2zM198 301h2v2h-2zM117 389h2v1h-2zM245 58h2v3h-2zM225 56h42v2h-42zM683 64h2v2h-2zM680 61h8v2h-8zM680 63h9v1h-9zM678 64h4v1h-4zM686 64h5v1h-5zM677 65h4v1h-4zM688 65h5v1h-5zM675 66h4v1h-4zM690 66h5v1h-5zM674 67h4v1h-4zM692 67h5v1h-5zM672 68h4v1h-4zM694 68h5v1h-5zM671 69h4v1h-4zM696 69h5v1h-5zM669 70h4v1h-4zM698 70h5v1h-5zM667 71h5v1h-5zM700 71h5v1h-5zM666 72h4v1h-4zM702 72h5v1h-5zM664 73h4v1h-4zM704 73h5v1h-5zM663 74h4v1h-4zM706 74h5v1h-5zM661 75h4v1h-4zM708 75h5v1h-5zM660 76h4v1h-4zM710 76h5v1h-5zM658 77h4v1h-4zM712 77h5v1h-5zM657 78h4v1h-4zM714 78h5v1h-5zM655 79h4v1h-4zM716 79h5v1h-5zM654 80h4v1h-4zM718 80h5v1h-5zM652 81h4v1h-4zM720 81h5v1h-5zM651 82h4v1h-4zM722 82h5v1h-5zM649 83h4v1h-4zM724 83h5v1h-5zM648 84h4v1h-4zM726 84h5v1h-5zM646 85h4v1h-4zM728 85h5v1h-5zM645 86h4v1h-4zM730 86h5v1h-5zM643 87h4v1h-4zM732 87h5v1h-5zM641 88h5v1h-5zM734 88h5v1h-5zM640 89h4v1h-4zM736 89h5v1h-5zM638 90h4v1h-4zM738 90h5v1h-5zM637 91h4v1h-4zM740 91h5v1h-5zM635 92h4v1h-4zM742 92h5v1h-5zM634 93h4v1h-4zM744 93h5v1h-5zM632 94h4v1h-4zM746 94h5v1h-5zM631 95h4v1h-4zM748 95h5v1h-5zM629 96h4v1h-4zM750 96h5v1h-5zM628 97h4v1h-4zM752 97h5v1h-5zM626 98h4v1h-4zM754 98h5v1h-5zM625 99h4v1h-4zM756 99h5v1h-5zM764 104h2v3h-2zM623 100h4v1h-4zM758 100h5v1h-5zM622 101h4v1h-4zM760 101h6v1h-6zM620 102h4v1h-4zM761 102h8v2h-8zM619 103h4v1h-4zM617 104h4v1h-4zM615 105h5v1h-5zM614 106h4v1h-4zM612 107h4v1h-4zM611 108h4v1h-4zM609 109h4v1h-4zM608 110h4v1h-4zM602 117h2v2h-2zM606 111h4v1h-4zM605 112h4v1h-4zM602 113h5v1h-5zM599 114h8v2h-8zM597 116h7v1h-7zM595 117h5v1h-5zM593 118h5v1h-5zM590 119h6v1h-6zM588 120h6v1h-6zM586 121h5v1h-5zM584 122h5v1h-5zM582 123h5v1h-5zM580 124h5v1h-5zM577 125h6v1h-6zM575 126h6v1h-6zM573 127h5v1h-5zM571 128h5v1h-5zM569 129h5v1h-5zM566 130h6v1h-6zM564 131h6v1h-6zM562 132h5v1h-5zM560 133h5v1h-5zM558 134h5v1h-5zM555 135h6v1h-6zM553 136h6v1h-6zM551 137h5v1h-5zM549 138h5v1h-5zM547 139h5v1h-5zM544 140h6v1h-6zM542 141h6v1h-6zM540 142h5v1h-5zM538 143h5v1h-5zM536 144h5v1h-5zM534 145h5v1h-5zM531 146h6v1h-6zM529 147h6v1h-6zM521 155h2v1h-2zM527 148h5v1h-5zM525 149h5v1h-5zM521 150h7v1h-7zM518 151h8v2h-8zM518 153h5v1h-5zM517 154h6v1h-6zM516 155h3v1h-3zM515 156h3v1h-3zM514 157h3v1h-3zM512 158h4v1h-4zM511 159h4v1h-4zM510 160h3v1h-3zM509 161h3v1h-3zM508 162h3v1h-3zM506 163h4v1h-4zM505 164h4v1h-4zM504 165h3v1h-3zM503 166h3v1h-3zM501 167h4v1h-4zM500 168h4v1h-4zM499 169h3v1h-3zM498 170h3v1h-3zM497 171h3v1h-3zM495 172h4v1h-4zM494 173h4v1h-4zM493 174h3v1h-3zM492 175h3v1h-3zM491 176h3v1h-3zM489 177h4v1h-4zM488 178h4v1h-4zM487 179h3v1h-3zM486 180h3v1h-3zM485 181h3v1h-3zM483 182h4v1h-4zM482 183h4v1h-4zM481 184h3v1h-3zM480 185h3v1h-3zM478 186h4v1h-4zM477 187h4v1h-4zM476 188h3v1h-3zM475 189h3v1h-3zM474 190h3v1h-3zM472 191h4v1h-4zM471 192h4v1h-4zM470 193h3v1h-3zM469 194h3v1h-3zM468 195h3v1h-3zM466 196h4v1h-4zM465 197h4v1h-4zM464 198h3v1h-3zM463 199h3v1h-3zM461 200h4v1h-4zM460 201h4v1h-4zM459 202h3v1h-3zM458 203h3v1h-3zM457 204h3v1h-3zM455 205h4v1h-4zM454 206h4v1h-4zM453 207h3v1h-3zM452 208h3v1h-3zM451 209h3v1h-3zM449 210h4v1h-4zM448 211h4v1h-4zM447 212h3v1h-3zM446 213h3v1h-3zM441 220h2v2h-2zM445 214h3v1h-3zM441 215h6v1h-6zM441 216h5v1h-5zM438 217h8v1h-8zM437 218h9v1h-9zM433 219h10v1h-10zM430 220h8v1h-8zM427 221h7v1h-7zM424 222h7v1h-7zM420 223h8v1h-8zM417 224h8v1h-8zM414 225h7v1h-7zM411 226h7v1h-7zM407 227h8v1h-8zM404 228h8v1h-8zM401 229h7v1h-7zM398 230h7v1h-7zM395 231h7v1h-7zM391 232h8v1h-8zM388 233h8v1h-8zM385 234h7v1h-7zM382 235h7v1h-7zM378 236h8v1h-8zM375 237h8v1h-8zM372 238h7v1h-7zM360 245h2v2h-2zM369 239h7v1h-7zM365 240h8v1h-8zM360 241h10v1h-10zM357 242h9v1h-9zM357 243h8v1h-8zM355 244h7v1h-7zM353 245h5v1h-5zM351 246h5v1h-5zM349 247h5v1h-5zM347 248h5v1h-5zM345 249h5v1h-5zM343 250h5v1h-5zM341 251h5v1h-5zM339 252h5v1h-5zM337 253h5v1h-5zM335 254h5v1h-5zM332 255h6v1h-6zM330 256h6v1h-6zM328 257h5v1h-5zM326 258h5v1h-5zM324 259h5v1h-5zM322 260h5v1h-5zM320 261h5v1h-5zM318 262h5v1h-5zM316 263h5v1h-5zM314 264h5v1h-5zM312 265h5v1h-5zM310 266h5v1h-5zM308 267h5v1h-5zM305 268h6v1h-6zM303 269h6v1h-6zM301 270h5v1h-5zM299 271h5v1h-5zM297 272h5v1h-5zM295 273h5v1h-5zM293 274h5v1h-5zM291 275h5v1h-5zM289 276h5v1h-5zM287 277h5v1h-5zM279 284h2v2h-2zM285 278h5v1h-5zM283 279h5v1h-5zM279 280h7v1h-7zM276 281h8v1h-8zM274 282h10v1h-10zM271 283h10v1h-10zM267 284h8v1h-8zM264 285h8v1h-8zM260 286h8v1h-8zM257 287h8v1h-8zM253 288h8v1h-8zM250 289h8v1h-8zM246 290h8v1h-8zM243 291h8v1h-8zM239 292h8v1h-8zM235 293h9v1h-9zM232 294h8v1h-8zM228 295h8v1h-8zM225 296h8v1h-8zM221 297h8v1h-8zM218 298h8v1h-8zM214 299h8v1h-8zM211 300h8v1h-8zM198 308h2v1h-2zM207 301h8v1h-8zM204 302h8v1h-8zM198 303h10v1h-10zM195 304h10v1h-10zM195 305h8v1h-8zM196 306h4v1h-4zM195 307h5v1h-5zM194 308h3v1h-3zM193 309h3v1h-3zM192 310h3v1h-3zM192 311h2v1h-2zM191 312h3v1h-3zM190 313h3v1h-3zM189 314h3v1h-3zM188 315h3v1h-3zM187 316h3v1h-3zM186 317h3v1h-3zM185 318h3v1h-3zM184 319h3v1h-3zM183 320h3v1h-3zM182 321h3v1h-3zM181 322h3v1h-3zM181 323h2v1h-2zM180 324h3v1h-3zM179 325h3v1h-3zM178 326h3v1h-3zM177 327h3v1h-3zM176 328h3v1h-3zM175 329h3v1h-3zM174 330h3v1h-3zM173 331h3v1h-3zM172 332h3v1h-3zM171 333h3v1h-3zM170 334h3v1h-3zM169 335h3v1h-3zM169 336h2v1h-2zM168 337h3v1h-3zM167 338h3v1h-3zM166 339h3v1h-3zM165 340h3v1h-3zM164 341h3v1h-3zM163 342h3v1h-3zM162 343h3v1h-3zM161 344h3v1h-3zM160 345h3v1h-3zM159 346h3v1h-3zM158 347h3v1h-3zM157 348h3v1h-3zM157 349h2v1h-2zM156 350h3v1h-3zM155 351h3v1h-3zM154 352h3v1h-3zM153 353h3v1h-3zM152 354h3v1h-3zM151 355h3v1h-3zM150 356h3v1h-3zM149 357h3v1h-3zM148 358h3v1h-3zM147 359h3v1h-3zM146 360h3v1h-3zM146 361h2v1h-2zM145 362h3v1h-3zM144 363h3v1h-3zM143 364h3v1h-3zM142 365h3v1h-3zM141 366h3v1h-3zM140 367h3v1h-3zM139 368h3v1h-3zM138 369h3v1h-3zM137 370h3v1h-3zM136 371h3v1h-3zM135 372h3v1h-3zM134 373h3v1h-3zM134 374h2v1h-2zM133 375h3v1h-3zM132 376h3v1h-3zM131 377h3v1h-3zM130 378h3v1h-3zM129 379h3v1h-3zM128 380h3v1h-3zM127 381h3v1h-3zM126 382h3v1h-3zM125 383h3v1h-3zM124 384h3v1h-3zM123 385h3v1h-3zM123 386h2v1h-2zM122 387h3v1h-3zM121 388h3v1h-3zM117 394h2v3h-2zM120 389h3v1h-3zM117 390h5v1h-5zM117 391h4v1h-4zM114 392h8v2h-8z"/>
<path fill="#cc0000" d="M242 68h8v8h-8zM761 104h8v8h-8zM680 122h8v8h-8zM599 141h8v8h-8zM518 156h8v8h-8zM438 214h8v8h-8zM357 240h8v8h-8zM276 282h8v8h-8zM195 331h8v8h-8zM114 386h8v8h-8z"/>
<path fill="#000" d="M118 45h648v1h-648zM118 449h648v1h-648zM118 46h1v403h-1zM765 46h1v403h-1z"/>
</g>
<g font-family="Liberation Sans, Arial, sans-serif" font-size="16" fill="#000">
<text x="334.75 348.11 357.05 362.41 366.89 375.82 384.76 392.5 401.44 405.92 414.85 423.78 432.72 441.65 450.58 455.06 466.65 475.59 488.95 497.88 502.36 513.07 518.43 522.02 530.06 538.99" y="27">Mar 20<tspan font-family="NanumGothic, Liberation Sans, sans-serif" font-size="14.8" stroke="#000" stroke-width="0.45">1</tspan><tspan font-family="NanumGothic, Liberation Sans, sans-serif" font-size="14.8" stroke="#000" stroke-width="0.45">1</tspan> 95<tspan font-family="NanumGothic, Liberation Sans, sans-serif" font-size="14.8" stroke="#000" stroke-width="0.45">1</tspan>3<tspan font-family="NanumGothic, Liberation Sans, sans-serif" font-size="14.8" stroke="#000" stroke-width="0.45">1</tspan> Home Prices</text>
<text x="55.11 64.11 73.11 82.1 91.1 100.1" y="453">350000</text>
<text x="55.11 64.11 73.11 82.1 91.1 100.1" y="395">400000</text>
<text x="55.11 64.11 73.11 82.1 91.1 100.1" y="338">450000</text>
<text x="55.11 64.11 73.11 82.1 91.1 100.1" y="280">500000</text>
<text x="55.11 64.11 73.11 82.1 91.1 100.1" y="222">550000</text>
<text x="55.11 64.11 73.11 82.1 91.1 100.1" y="164">600000</text>
<text x="55.11 64.11 73.11 82.1 91.1 100.1" y="107">650000</text>
<text x="55.11 64.11 73.11 82.1 91.1 100.1" y="49">700000</text>
<text x="115" y="468"><tspan font-family="NanumGothic, Liberation Sans, sans-serif" font-size="14.8" stroke="#000" stroke-width="0.45">1</tspan></text>
<text x="196" y="468">2</text>
<text x="277" y="468">3</text>
<text x="358" y="468">4</text>
<text x="439" y="468">5</text>
<text x="519" y="468">6</text>
<text x="600" y="468">7</text>
<text x="681" y="468">8</text>
<text x="762" y="468">9</text>
<g transform="rotate(-90)"><text x="-265.2 -254.31 -248.76 -244.99 -236.77" y="17">Price</text></g>
<text x="151.7 160.6 164.15 172.15 176.6 181.04 191.72 197.04 200.6 208.6" y="61">List Price</text>
<text x="145 155.67 164.57 168.12 177.02 181.47 192.14 197.47 201.02 209.02" y="76">Sale Price</text>
</g>
</svg>
</body></html>
